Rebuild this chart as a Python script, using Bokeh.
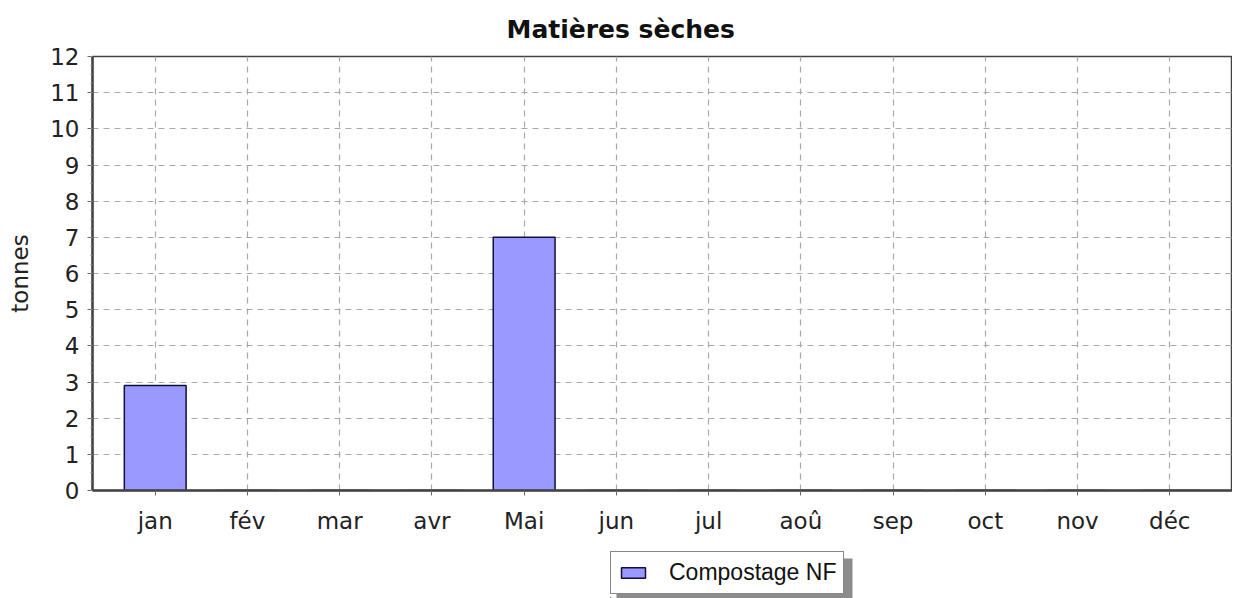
from bokeh.plotting import figure
from bokeh.layouts import column, row
from bokeh.models import (FactorRange, Range1d, SingleIntervalTicker, Legend, LegendItem,
                          ColumnDataSource, Spacer)
from bokeh.embed import file_html
from bokeh.resources import INLINE

months = ["jan", "fév", "mar", "avr", "Mai", "jun", "jul", "aoû", "sep", "oct", "nov", "déc"]
values = [2.9, 0, 0, 0, 7.0, 0, 0, 0, 0, 0, 0, 0]
series_name = "Compostage NF"
title_text = "Matières sèches"
y_label = "tonnes"

BAR_FILL = "#9999ff"
BAR_LINE = "#10103a"

src = ColumnDataSource(dict(month=months, value=values))

p = figure(width=1232, height=548, output_backend="svg", toolbar_location=None,
           x_range=FactorRange(factors=months, range_padding=0.18, range_padding_units="absolute"),
           y_range=Range1d(0, 12),
           min_border_left=92, min_border_right=0, min_border_top=56, min_border_bottom=58)

p.title.text = title_text
p.title.align = "left"
p.title.offset = 414
p.title.standoff = 25
p.title.text_font = "DejaVu Sans"
p.title.text_font_size = "25px"
p.title.text_font_style = "bold"
p.title.text_color = "#111111"

r = p.vbar(x="month", top="value", width=0.67, source=src,
           fill_color=BAR_FILL, line_color=BAR_LINE, line_width=1.5)

for ax in (p.xaxis[0], p.yaxis[0]):
    ax.axis_line_color = "#444444"
    ax.axis_line_width = 2.5
    ax.major_tick_line_color = "#666666"
    ax.minor_tick_line_color = "#888888"
    ax.major_label_text_font = "DejaVu Sans"
    ax.major_label_text_font_size = "23px"
    ax.major_label_text_color = "#222222"
    ax.major_tick_in = 0
    ax.major_tick_out = 5

p.yaxis.ticker = SingleIntervalTicker(interval=1, num_minor_ticks=4)
p.yaxis.minor_tick_in = 0
p.yaxis.minor_tick_out = 2
p.yaxis.major_label_standoff = 8
p.yaxis.axis_label = y_label
p.yaxis.axis_label_text_font = "DejaVu Sans"
p.yaxis.axis_label_text_font_size = "23px"
p.yaxis.axis_label_text_font_style = "normal"
p.yaxis.axis_label_text_color = "#222222"
p.yaxis.axis_label_standoff = 14
p.xaxis.major_label_standoff = 12

p.outline_line_color = "#444444"
p.outline_line_width = 1.5

for g in (p.xgrid[0], p.ygrid[0]):
    g.grid_line_color = "#a8a8a8"
    g.grid_line_dash = "6 5"
    g.grid_line_width = 1.2

# separate small figure holding the legend box, with a drop shadow
LW, LH = 252, 50
lf = figure(width=LW, height=LH, output_backend="svg", toolbar_location=None,
            x_axis_type=None, y_axis_type=None,
            x_range=Range1d(0, LW), y_range=Range1d(0, LH),
            min_border=0, outline_line_color=None)
lf.xgrid.visible = False
lf.ygrid.visible = False
# drop shadow behind the legend box (decoration)
lf.quad(left=[6], right=[6 + 236], bottom=[0], top=[40],
        fill_color="#8c8c8c", line_color=None)
# renderer used only as the legend's swatch (placed outside the visible range)
r2 = lf.vbar(x=[-50], top=[1], width=1, fill_color=BAR_FILL, line_color=BAR_LINE, line_width=1.5)

legend = Legend(items=[LegendItem(label=series_name, renderers=[r2])], location=(0, 4),
                orientation="horizontal", label_text_font="Liberation Sans",
                label_text_font_size="23px", glyph_width=30, glyph_height=13,
                padding=7, margin=0, spacing=0, label_standoff=21,
                background_fill_color="white", background_fill_alpha=1,
                border_line_color="#111111", border_line_width=1.2,
                label_text_color="#111111")
lf.add_layout(legend, "center")

layout = column(p, row(Spacer(width=610, height=LH), lf))

open("out.html", "w").write(file_html(layout, INLINE))
